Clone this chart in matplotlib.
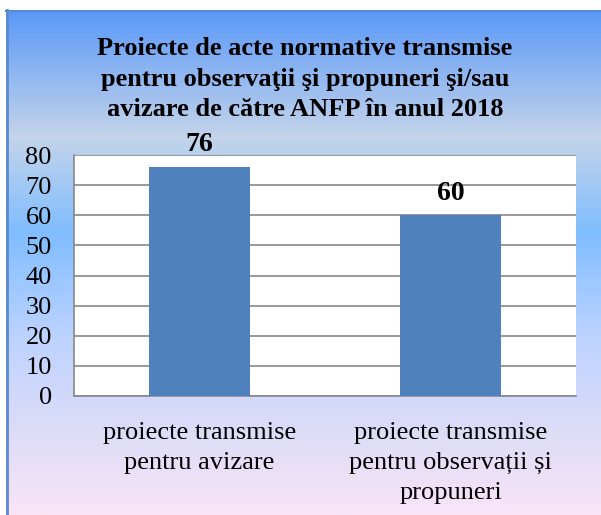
#!/usr/bin/env python3
# Bar chart: draft normative acts sent to ANFP in 2018 (two categories).

import numpy as np
import matplotlib.pyplot as plt
from matplotlib.colors import LinearSegmentedColormap

categories = ['proiecte transmise\npentru avizare',
              'proiecte transmise\npentru observații și\npropuneri']
values = [76, 60]
yticks = [0, 10, 20, 30, 40, 50, 60, 70, 80]
title = ('Proiecte de acte normative transmise\n'
         'pentru observaţii şi propuneri şi/sau\n'
         'avizare de către ANFP în anul 2018')

plt.rcParams['font.family'] = ['Liberation Serif', 'DejaVu Serif']

W, H = 601, 515
fig = plt.figure(figsize=(W / 100, H / 100), dpi=100)

# gradient background, filled from the frame border downward
bg = fig.add_axes([0, 0, 1, 1], zorder=-10)
bg.set_xlim(0, W)
bg.set_ylim(H, 0)
bg.axis('off')
stops = [(0.00, '#5b99f8'), (0.25, '#c4d4ea'), (0.44, '#80bdff'),
         (0.65, '#bdd3ff'), (0.83, '#dcdcf8'), (1.00, '#f9e4f7')]
cmap = LinearSegmentedColormap.from_list('bgfill', stops)
grad = np.linspace(0, 1, 400)[:, None]
bg.imshow(grad, cmap=cmap, aspect='auto', extent=(6, W, H, 10))
bg.plot([6.5, 6.5], [10, H], color='#5a8ad0', lw=2)
bg.plot([6, W], [10.5, 10.5], color='#5a8ad0', lw=1.5)

ax = fig.add_axes([74 / W, 1 - 396 / H, 502 / W, 241 / H])
ax.set_facecolor('white')
x = np.arange(len(categories))
bars = ax.bar(x, values, width=0.4, color='#4f81bd', zorder=3)
ax.set_xlim(-0.5, len(categories) - 0.5)
ax.set_ylim(0, 80)
ax.set_yticks(yticks)
ax.set_yticklabels([str(t) for t in yticks], fontsize=19)
ax.set_xticks(x)
ax.set_xticklabels(categories, fontsize=19, linespacing=1.45)
ax.tick_params(length=0)
ax.tick_params(axis='y', pad=16)
ax.tick_params(axis='x', pad=19)
ax.grid(axis='y', color='#888888', lw=1.2, zorder=1)
for s in ['top', 'right']:
    ax.spines[s].set_visible(False)
for s in ['left', 'bottom']:
    ax.spines[s].set_color('#888888')
    ax.spines[s].set_linewidth(1.2)

for xi, v in zip(x, values):
    ax.annotate(str(v), (xi, v), xytext=(0, 7), textcoords='offset points',
                ha='center', va='bottom', fontsize=20, fontweight='bold')

fig.text(305 / W, 1 - 37 / H, title, ha='center', va='top', fontsize=19,
         fontweight='bold', linespacing=1.42)

fig.savefig('out.png', dpi=100)
